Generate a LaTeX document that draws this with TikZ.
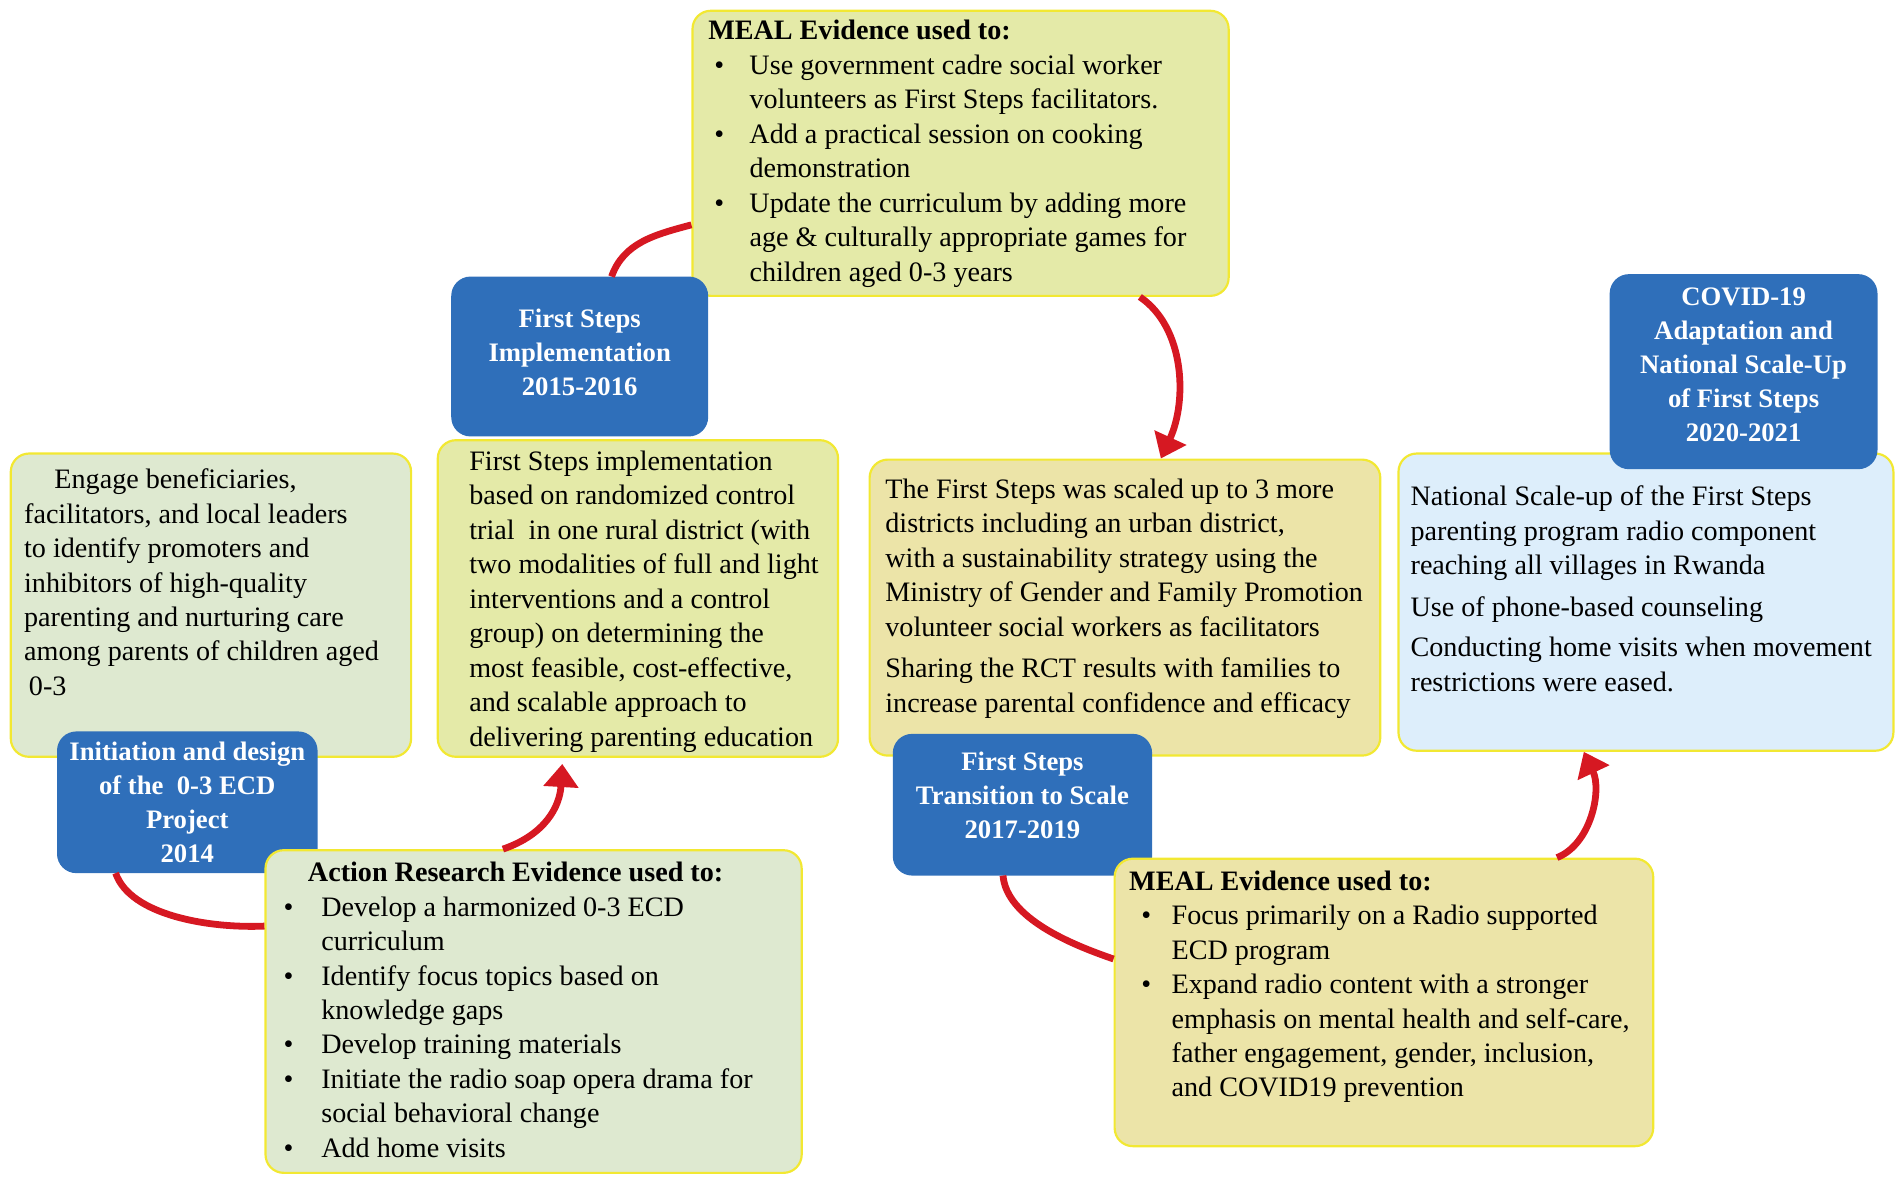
\documentclass[tikz,border=0pt]{standalone}
\usepackage{fontspec}
\setmainfont{Liberation Serif}
\usetikzlibrary{calc,arrows.meta}
\definecolor{bblue}{RGB}{47,111,186}
\definecolor{ared}{RGB}{214,24,34}
\definecolor{ybord}{RGB}{242,232,50}
\definecolor{gfill}{RGB}{222,233,208}
\definecolor{yfill}{RGB}{228,234,168}
\definecolor{kfill}{RGB}{236,228,168}
\definecolor{lbfill}{RGB}{221,238,251}
\newcommand\TB[5]{\parbox[c][#2][t]{#1}{\leftskip=#3\relax\rule{0pt}{#4}#5}}
\newcommand\BB[4]{\parbox[c][#2][t]{#1}{\centering\rule{0pt}{#3}#4}}
\def\bulind{0pt}\def\txtind{15pt}
\newcommand\Bl[1]{\hspace*{\bulind}\makebox[\dimexpr\txtind-\bulind\relax][l]{\textbullet}\mbox{#1}}
\newcommand\Cl[1]{\hspace*{\txtind}\mbox{#1}}
\newcommand\Pl[1]{\mbox{#1}}
\begin{document}
\begin{tikzpicture}[x=0.5pt,y=-0.5pt,
  tbox/.style={draw=ybord,line width=0.9pt,rounded corners=7.5pt,inner sep=0pt,anchor=north west,font=\fontsize{11.6}{14.2}\selectfont},
  bbox/.style={draw=bblue,fill=bblue,line width=0.9pt,rounded corners=7.5pt,inner sep=0pt,anchor=north west,text=white,font=\bfseries\fontsize{11}{14}\selectfont},
  conn/.style={draw=ared,line width=2.8pt},
  conna/.style={conn,-{Triangle[width=14pt,length=9.5pt]}}]
\useasboundingbox (0,0) rectangle (1568,972.8);

% text boxes
\node[tbox,fill=yfill] (meal1) at (570,8) {\TB{221pt}{117.5pt}{6.5pt}{12pt}{\def\bulind{2.5pt}\def\txtind{17pt}\textbf{MEAL Evidence used to:}\\
\Bl{Use government cadre social worker}\\
\Cl{volunteers as First Steps facilitators.}\\
\Bl{Add a practical session on cooking}\\
\Cl{demonstration}\\
\Bl{Update the curriculum by adding more}\\
\Cl{age \& culturally appropriate games for}\\
\Cl{children aged 0-3 years}}};

\node[tbox,fill=gfill] (engage) at (8,373) {\TB{165pt}{125pt}{5.5pt}{14.5pt}{\hspace*{12.5pt}\Pl{Engage beneficiaries,}\\
\Pl{facilitators, and local leaders}\\
\Pl{to identify promoters and}\\
\Pl{inhibitors of high-quality}\\
\Pl{parenting and nurturing care}\\
\Pl{among parents of children aged}\\
\hspace*{2pt}\Pl{0-3}}};

\node[tbox,fill=yfill] (impltext) at (360,362) {\TB{165pt}{130.5pt}{13pt}{12.5pt}{\Pl{First Steps implementation}\\
\Pl{based on randomized control}\\
\Pl{trial\ \ in one rural district (with}\\
\Pl{two modalities of full and light}\\
\Pl{interventions and a control}\\
\Pl{group) on determining the}\\
\Pl{most feasible, cost-effective,}\\
\Pl{and scalable approach to}\\
\Pl{delivering parenting education}}};

\node[tbox,fill=kfill] (scaled) at (716,378) {\TB{210.5pt}{122pt}{6.5pt}{16pt}{\Pl{The First Steps was scaled up to 3 more}\\
\Pl{districts including an urban district,}\\
\Pl{with a sustainability strategy using the}\\
\Pl{Ministry of Gender and Family Promotion}\\
\Pl{volunteer social workers as facilitators}\\[3pt]
\Pl{Sharing the RCT results with families to}\\
\Pl{increase parental confidence and efficacy}}};

\node[tbox,fill=lbfill] (lightb) at (1152,373) {\TB{204pt}{122.5pt}{5pt}{21.5pt}{\Pl{National Scale-up of the First Steps}\\
\Pl{parenting program radio component}\\
\Pl{reaching all villages in Rwanda}\\[3pt]
\Pl{Use of phone-based counseling}\\[2.5pt]
\Pl{Conducting home visits when movement}\\
\Pl{restrictions were eased.}}};

% blue stage boxes
\node[bbox] (implb) at (372,228) {\BB{105pt}{65pt}{20.5pt}{\mbox{First Steps}\\ \mbox{Implementation}\\ \mbox{2015-2016}}};
\node[bbox] (init) at (47,603) {\BB{106.5pt}{57.5pt}{11.5pt}{\mbox{Initiation and design}\\ \mbox{of the\ \ 0-3 ECD}\\ \mbox{Project}\\ \mbox{2014}}};
\node[bbox] (trans) at (736,605) {\BB{106pt}{57.5pt}{14.5pt}{\mbox{First Steps}\\ \mbox{Transition to Scale}\\ \mbox{2017-2019}}};
\node[bbox] (covid) at (1327,226) {\BB{109.5pt}{79.5pt}{12.5pt}{\mbox{COVID-19}\\ \mbox{Adaptation and}\\ \mbox{National Scale-Up}\\ \mbox{of First Steps}\\ \mbox{2020-2021}}};

% evidence boxes on top
\node[tbox,fill=gfill] (action) at (218,700) {\TB{221pt}{133pt}{7.5pt}{13pt}{\def\bulind{0pt}\def\txtind{15.5pt}\hspace*{10pt}\textbf{Action Research Evidence used to:}\\
\Bl{Develop a harmonized 0-3 ECD}\\
\Cl{curriculum}\\
\Bl{Identify focus topics based on}\\
\Cl{knowledge gaps}\\
\Bl{Develop training materials}\\
\Bl{Initiate the radio soap opera drama for}\\
\Cl{social behavioral change}\\
\Bl{Add home visits}}};

\node[tbox,fill=kfill] (meal2) at (918,707) {\TB{222pt}{118.5pt}{6pt}{13pt}{\def\bulind{5pt}\def\txtind{17.5pt}\textbf{MEAL Evidence used to:}\\
\Bl{Focus primarily on a Radio supported}\\
\Cl{ECD program}\\
\Bl{Expand radio content with a stronger}\\
\Cl{emphasis on mental health and self-care,}\\
\Cl{father engagement, gender, inclusion,}\\
\Cl{and COVID19 prevention}}};

% connectors
\draw[conn] ($(init.south west)!0.225!(init.south east)$) .. controls +(12,35) and +(-45,2) .. ($(action.north west)!0.237!(action.south west)$);
\draw[conna] ($(action.north west)!0.443!(action.north east)$) .. controls +(35,-12) and +(-2,35) .. ($(impltext.south west)!0.312!(impltext.south east)+(0,5)$);
\draw[conn] ($(implb.north west)!0.624!(implb.north east)$) .. controls +(10,-28) and +(-30,8) .. ($(meal1.north west)!0.749!(meal1.south west)$);
\draw[conna] ($(meal1.south west)!0.833!(meal1.south east)$) .. controls +(37,25) and +(22,-48) .. ($(scaled.north west)!0.570!(scaled.north east)$);
\draw[conn] ($(trans.south west)!0.425!(trans.south east)$) .. controls +(3,35) and +(-35,-12) .. ($(meal2.north west)!0.35!(meal2.south west)$);
\draw[conna] ($(meal2.north west)!0.82!(meal2.north east)$) .. controls +(28,-11) and +(15,32) .. ($(lightb.south west)!0.375!(lightb.south east)$);
\end{tikzpicture}
\end{document}
